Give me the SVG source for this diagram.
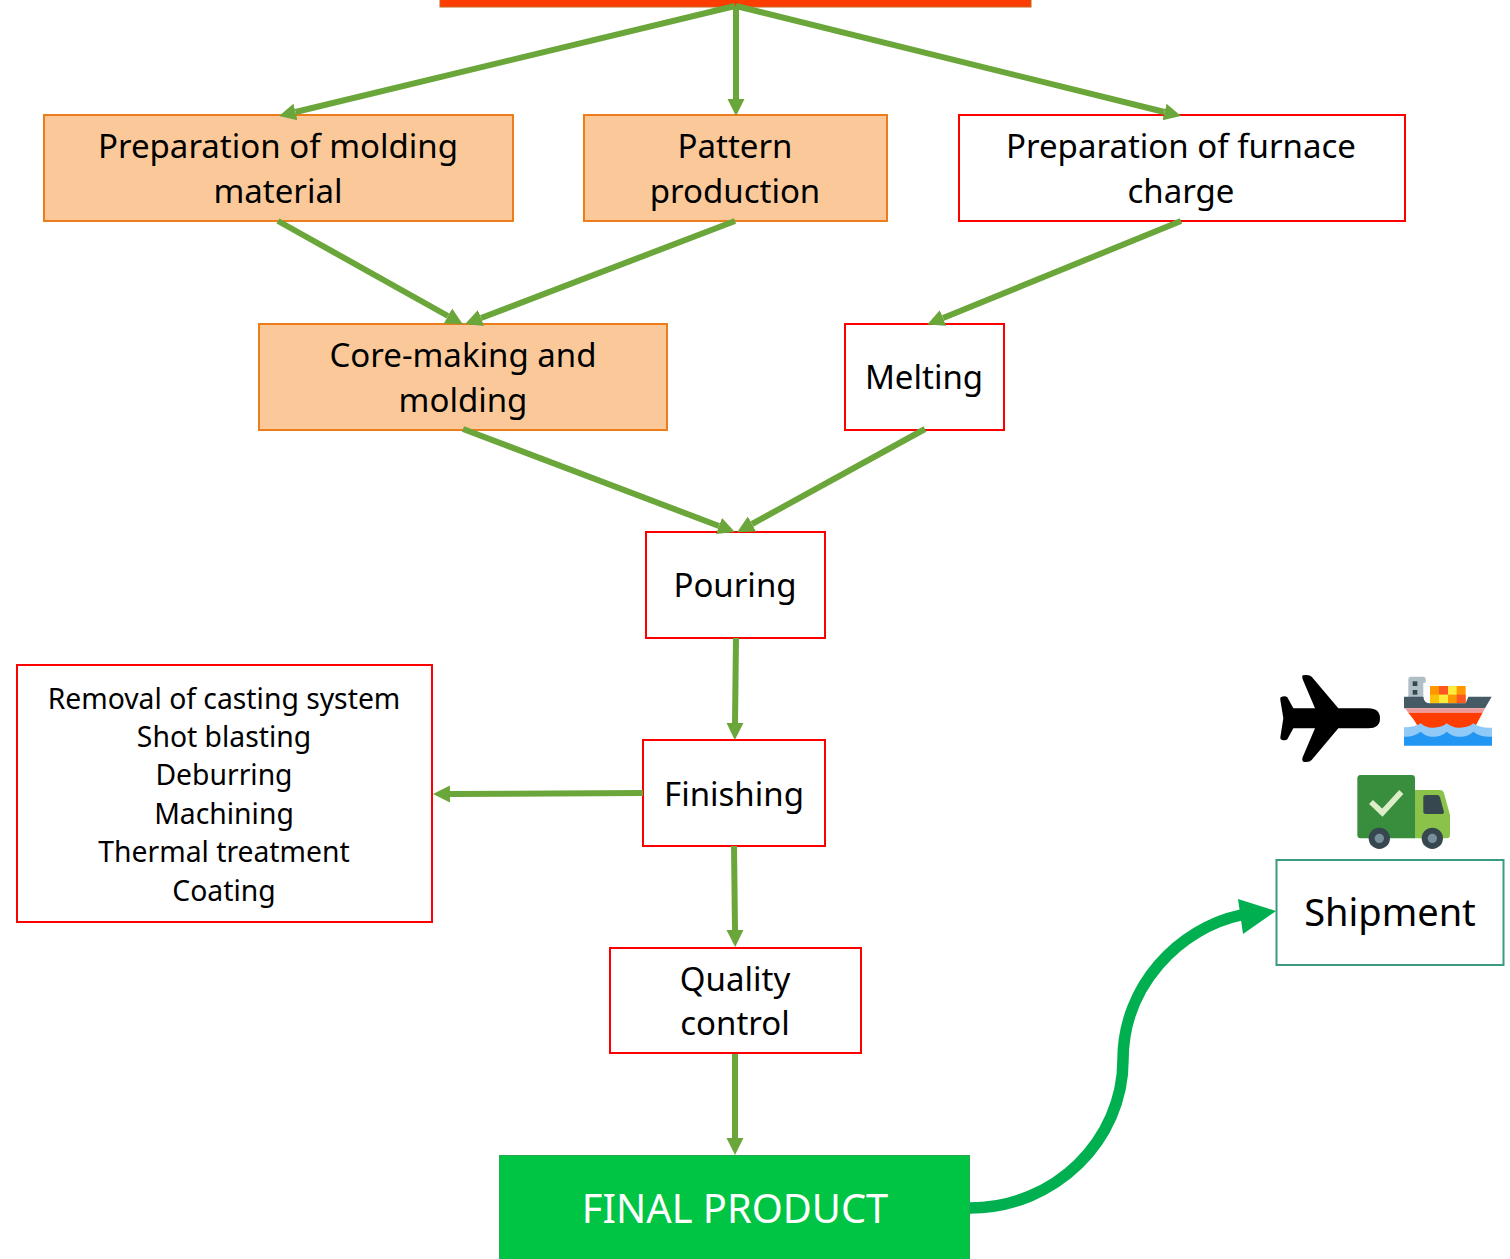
<svg xmlns="http://www.w3.org/2000/svg" width="1510" height="1259" viewBox="0 0 1510 1259">
<style>
text{font-family:"Noto Sans","Open Sans","Liberation Sans",sans-serif;text-anchor:middle;fill:#000}
.t{font-size:33px}
.s{font-size:28.3px}
.o{fill:#fbc999;stroke:#ed7d1a;stroke-width:2}
.r{fill:#fff;stroke:#ff0000;stroke-width:2}
#connectors .c{fill:none;stroke:#6aa63a;stroke-width:6;marker-end:url(#ah)}
</style>
<defs>
<marker id="ah" markerUnits="userSpaceOnUse" markerWidth="20" markerHeight="20" refX="0" refY="10" orient="auto" viewBox="0 0 20 20"><path d="M0 1.500L17 10L0 18.500Z" fill="#6aa63a"/></marker>
</defs>
<rect width="1510" height="1259" fill="#fff"/>
<g id="top"><rect x="440" y="-4" width="591" height="11" fill="#ff3c00" stroke="#c0661a" stroke-width="1"/></g>
<g id="prep-molding"><rect class="o" x="44" y="115" width="469" height="106"/><text class="t" x="278" y="158">Preparation of molding</text><text class="t" x="278" y="203">material</text></g>
<g id="pattern"><rect class="o" x="584" y="115" width="303" height="106"/><text class="t" x="735" y="158">Pattern</text><text class="t" x="735" y="203">production</text></g>
<g id="furnace"><rect class="r" x="959" y="115" width="446" height="106"/><text class="t" x="1181" y="158">Preparation of furnace</text><text class="t" x="1181" y="203">charge</text></g>
<g id="core"><rect class="o" x="259" y="324" width="408" height="106"/><text class="t" x="463" y="367">Core-making and</text><text class="t" x="463" y="412">molding</text></g>
<g id="melting"><rect class="r" x="845" y="324" width="159" height="106"/><text class="t" x="924" y="389">Melting</text></g>
<g id="pouring"><rect class="r" x="646" y="532" width="179" height="106"/><text class="t" x="735" y="597">Pouring</text></g>
<g id="finishing"><rect class="r" x="643" y="740" width="182" height="106"/><text class="t" x="734" y="806">Finishing</text></g>
<g id="removal"><rect class="r" x="17" y="665" width="415" height="257"/>
<text class="s" x="224" y="709">Removal of casting system</text><text class="s" x="224" y="747">Shot blasting</text><text class="s" x="224" y="785">Deburring</text><text class="s" x="224" y="824">Machining</text><text class="s" x="224" y="862">Thermal treatment</text><text class="s" x="224" y="901">Coating</text></g>
<g id="quality"><rect class="r" x="610" y="948" width="251" height="105"/><text class="t" x="735" y="991">Quality</text><text class="t" x="735" y="1035">control</text></g>
<g id="final"><rect x="499.500" y="1155.500" width="470" height="110" fill="#00c544" stroke="#2aa84f" stroke-width="1"/><text x="735" y="1223" font-size="39.800" style="fill:#fff">FINAL PRODUCT</text></g>
<g id="shipment"><rect x="1276.500" y="860" width="227" height="105" fill="#fff" stroke="#3a9a82" stroke-width="2"/><text x="1390" y="926" font-size="38">Shipment</text></g>
<g id="connectors">
<path class="c" d="M735 6L295.500 112"/>
<path class="c" d="M736 6L736 99"/>
<path class="c" d="M736 6L1164.500 112"/>
<path class="c" d="M278 221L448 316"/>
<path class="c" d="M735 221L481 318"/>
<path class="c" d="M1181 221L943 318"/>
<path class="c" d="M463 429L719 526"/>
<path class="c" d="M925 429L752 524"/>
<path class="c" d="M736 638L735 723"/>
<path class="c" d="M643 793L450 794"/>
<path class="c" d="M734 846L735 930"/>
<path class="c" d="M735 1054L735 1138"/>
<path d="M970 1208C1055 1208 1123 1140 1123 1060C1123 985 1180 928 1241 915" fill="none" stroke="#00b050" stroke-width="11.500"/>
<path d="M1276 911L1238 899L1243 934Z" fill="#00b050"/>
</g>
<g id="icons" transform="translate(1260 660) scale(.33333)">
<path d="M360 175Q360 145 325 145L235 145L155 50Q148 42 128 46Q125 50 128 58L165 145L100 145L82 112Q75 106 62 112Q60 115 61 120L70 175L61 232Q60 238 66 240Q78 242 82 238L100 205L165 205L128 292Q125 302 130 305Q148 308 155 300L235 205L325 205Q360 205 360 175Z" fill="#000"/>
<path d="M445 58Q445 50 453 50L490 50Q497 50 497 58L497 68L490 68L490 110Q490 125 505 130L445 130Z" fill="#b0bec5"/>
<rect x="458" y="64" width="14" height="14" fill="#37474f"/><rect x="458" y="90" width="14" height="14" fill="#37474f"/>
<rect x="510" y="78" width="107" height="52" fill="#ff9800"/>
<rect x="537" y="78" width="27" height="26" fill="#ff5722"/><rect x="564" y="78" width="26" height="26" fill="#ffeb3b"/><rect x="510" y="104" width="27" height="26" fill="#ffc107"/><rect x="537" y="104" width="27" height="26" fill="#ffeb3b"/><rect x="590" y="104" width="27" height="26" fill="#ff5722"/>
<path d="M432 110L490 110Q492 130 510 130L617 130L625 110L695 110L675 145L432 145Z" fill="#455a64"/>
<path d="M435 145L675 145L668 158L445 158Z" fill="#ef9a9a"/>
<path d="M445 158L668 158L640 210L480 210L462 180Z" fill="#ff3d00"/>
<path d="M432 202Q465 202 482 190Q500 205 520 203Q545 203 560 190Q580 205 600 203Q625 203 640 190Q660 205 696 203L696 240L432 240Z" fill="#90caf9"/>
<path d="M432 230Q460 232 482 215Q500 232 520 230Q545 230 560 215Q580 232 600 230Q625 230 640 215Q660 232 696 230L696 257L432 257Z" fill="#2196f3"/>
<path d="M465 390L540 390Q548 390 552 400L570 465L570 525Q570 535 560 535L465 535Z" fill="#8bc34a"/>
<path d="M302 345L455 345Q465 345 465 355L465 535L302 535Q292 535 292 525L292 355Q292 345 302 345Z" fill="#388e3c"/>
<path d="M497 405L532 405Q538 405 540 412L552 456Q552 462 546 462L497 462Q490 462 490 456L490 412Q490 405 497 405Z" fill="#37474f"/>
<circle cx="358" cy="535" r="32" fill="#37474f"/><circle cx="358" cy="535" r="14" fill="#78909c"/>
<circle cx="517" cy="535" r="32" fill="#37474f"/><circle cx="517" cy="535" r="14" fill="#78909c"/>
<path d="M333 426L367 458L424 396" fill="none" stroke="#dcedc8" stroke-width="17"/>
</g>
</svg>
